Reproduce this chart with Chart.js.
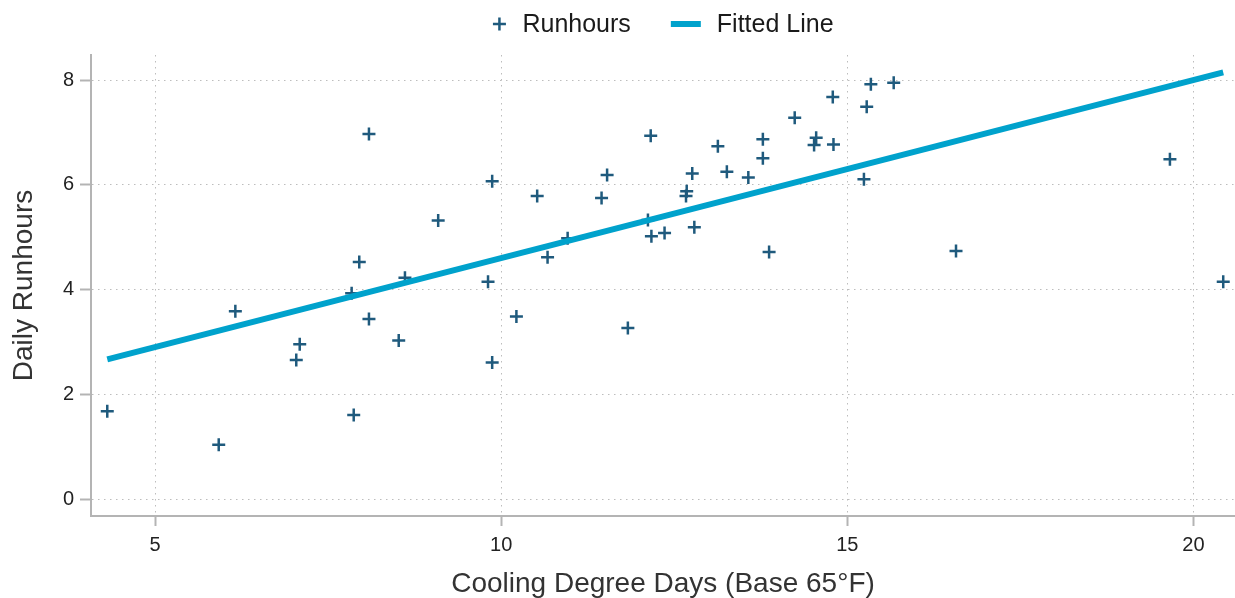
<!DOCTYPE html>
<html>
<head>
<meta charset="utf-8">
<script src="https://cdn.jsdelivr.net/npm/chart.js@4/dist/chart.umd.min.js"></script>
<style>
  html, body { margin: 0; padding: 0; background: #ffffff; }
  #wrap { width: 1235px; height: 598px; position: relative; }
</style>
</head>
<body>
<div id="wrap"><canvas id="chart"></canvas></div>
<script>
// Daily runhours against cooling degree days
const coolingDegreeDays = [4.31, 5.92, 6.16, 7.04, 7.09, 7.84, 7.95, 7.87, 8.09, 8.09,
  8.52, 8.61, 9.09, 9.81, 9.87, 9.87, 10.22, 10.52, 10.67, 10.96,
  11.45, 11.53, 11.83, 12.16, 12.12, 12.17, 12.36, 12.68, 12.67, 12.76,
  12.79, 13.13, 13.26, 13.57, 13.78, 13.78, 13.87, 14.24, 14.52, 14.55,
  14.79, 14.80, 15.24, 15.28, 15.34, 15.67, 16.57, 19.66, 20.43];
const dailyRunhours = [1.68, 1.04, 3.59, 2.66, 2.96, 3.93, 4.53, 1.61, 6.97, 3.44,
  3.03, 4.23, 5.32, 4.15, 6.07, 2.61, 3.49, 5.79, 4.62, 4.98,
  5.75, 6.19, 3.27, 6.94, 5.33, 5.02, 5.08, 5.88, 5.79, 6.22,
  5.19, 6.74, 6.25, 6.14, 6.87, 6.51, 4.72, 7.28, 6.76, 6.90,
  7.68, 6.77, 6.11, 7.49, 7.92, 7.95, 4.74, 6.49, 4.15];

// Fitted regression line, drawn between its two end points
const fitX = [4.31, 20.43];
const fitY = [2.67, 8.15];

const xTicks = [5, 10, 15, 20];
const yTicks = [0, 2, 4, 6, 8];

const FONT = '"Liberation Sans", Arial, sans-serif';
const MARK = '#1f5a7d';
const LINE = '#00a2cc';
const GRID = '#bdbdbd';
const AXIS = '#b4b4b4';

// Horizontal legend drawn above the plot area
const topLegend = {
  id: 'topLegend',
  afterDraw(chart) {
    const ctx = chart.ctx;
    const area = chart.chartArea;
    const y = 24;
    ctx.save();
    ctx.font = '25px ' + FONT;
    ctx.textBaseline = 'middle';
    ctx.textAlign = 'left';
    const items = chart.data.datasets.map(ds => ({
      ds,
      markW: ds.legendMark === 'cross' ? 14 : 30,
      textW: ctx.measureText(ds.label).width
    }));
    const gapText = 16, gapItem = 40;
    let total = 0;
    items.forEach((it, i) => {
      total += it.markW + gapText + it.textW + (i ? gapItem : 0);
    });
    let x = (area.left + area.right) / 2 - total / 2;
    items.forEach(it => {
      if (it.ds.legendMark === 'cross') {
        const cx = x + it.markW / 2, r = 6.5;
        ctx.strokeStyle = it.ds.pointBorderColor;
        ctx.lineWidth = 2.5;
        ctx.beginPath();
        ctx.moveTo(cx - r, y); ctx.lineTo(cx + r, y);
        ctx.moveTo(cx, y - r); ctx.lineTo(cx, y + r);
        ctx.stroke();
      } else {
        ctx.strokeStyle = it.ds.borderColor;
        ctx.lineWidth = 6;
        ctx.beginPath();
        ctx.moveTo(x, y); ctx.lineTo(x + it.markW, y);
        ctx.stroke();
      }
      x += it.markW + gapText;
      ctx.fillStyle = '#1a1a1a';
      ctx.fillText(it.ds.label, x, y + 1);
      x += it.textW + gapItem;
    });
    ctx.restore();
  }
};

new Chart(document.getElementById('chart'), {
  type: 'scatter',
  data: {
    datasets: [
      {
        label: 'Runhours',
        legendMark: 'cross',
        data: coolingDegreeDays.map((v, i) => ({ x: v, y: dailyRunhours[i] })),
        pointStyle: 'cross',
        pointRadius: 6.5,
        pointHoverRadius: 6.5,
        pointBorderWidth: 2.5,
        pointBorderColor: MARK,
        pointBackgroundColor: MARK,
        borderColor: MARK,
        order: 1
      },
      {
        type: 'line',
        label: 'Fitted Line',
        legendMark: 'line',
        data: fitX.map((v, i) => ({ x: v, y: fitY[i] })),
        borderColor: LINE,
        borderWidth: 6,
        borderCapStyle: 'butt',
        pointRadius: 0,
        fill: false,
        tension: 0,
        order: 0
      }
    ]
  },
  options: {
    responsive: true,
    maintainAspectRatio: false,
    animation: false,
    events: [],
    layout: { autoPadding: false, padding: { top: 55, right: 0, bottom: 0, left: 0 } },
    plugins: {
      legend: { display: false },
      tooltip: { enabled: false }
    },
    scales: {
      x: {
        type: 'linear',
        min: 4.075,
        max: 20.6,
        afterBuildTicks: s => { s.ticks = xTicks.map(v => ({ value: v })); },
        afterFit: s => { s.height = 82; s.paddingLeft = 0; s.paddingRight = 0; },
        grid: {
          color: GRID,
          lineWidth: 1,
          drawTicks: true,
          tickLength: 10,
          tickColor: AXIS,
          tickWidth: 2,
          tickBorderDash: [0, 0]
        },
        border: { display: true, color: AXIS, width: 2, dash: [1.5, 4.5] },
        ticks: {
          padding: 7,
          color: '#222',
          font: { family: FONT, size: 20 },
          maxRotation: 0
        },
        title: {
          display: true,
          text: 'Cooling Degree Days (Base 65°F)',
          color: '#333',
          font: { family: FONT, size: 28, lineHeight: 1 },
          padding: { top: 0, bottom: 0 }
        }
      },
      y: {
        type: 'linear',
        min: -0.32,
        max: 8.48,
        afterBuildTicks: s => { s.ticks = yTicks.map(v => ({ value: v })); },
        afterFit: s => { s.width = 91; s.paddingTop = 0; s.paddingBottom = 0; },
        grid: {
          color: GRID,
          lineWidth: 1,
          drawTicks: true,
          tickLength: 11,
          tickColor: AXIS,
          tickWidth: 2,
          tickBorderDash: [0, 0]
        },
        border: { display: true, color: AXIS, width: 2, dash: [1.5, 4.5] },
        ticks: {
          padding: 6,
          color: '#222',
          font: { family: FONT, size: 20 }
        },
        title: {
          display: true,
          text: 'Daily Runhours',
          color: '#333',
          font: { family: FONT, size: 28, lineHeight: 1 },
          padding: { top: 10, bottom: 0 }
        }
      }
    }
  },
  plugins: [topLegend]
});
</script>
</body>
</html>
